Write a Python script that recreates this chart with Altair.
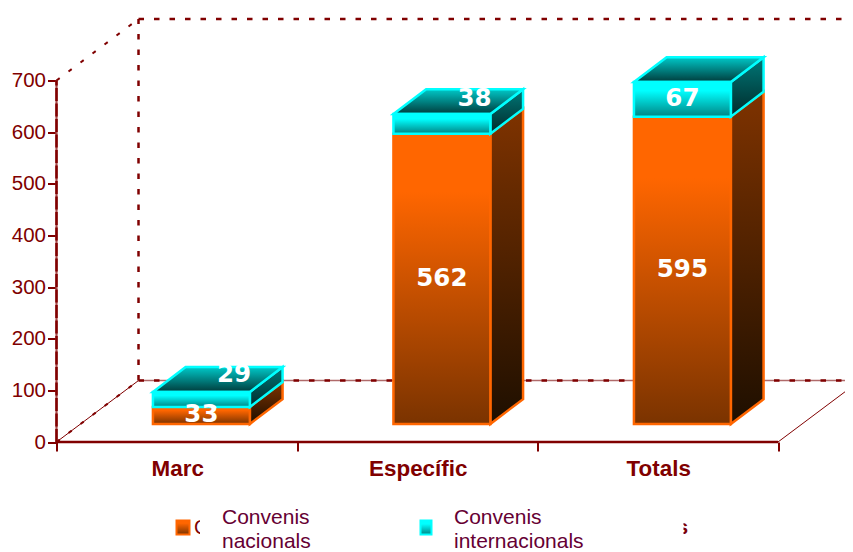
import altair as alt
import pandas as pd

categories = ["Marc", "Específic", "Totals"]
nacionals = [33, 562, 595]
internacionals = [29, 38, 67]
y_ticks = [0, 100, 200, 300, 400, 500, 600, 700]
x_ticks = [0, 1, 2, 3]
label_on_top = [True, True, False]  # the internacional label sits on the top face for the first two

DARK = "#800000"
ORIGIN_X, ORIGIN_Y = 56.5, 18.5
PLOT_W, PLOT_H = 788.5, 423.5
X_MAX, Y_MAX = PLOT_W / 240.5, 820

BAR_L, BAR_R = 0.401, 0.804     # front face inside a category
BASE = 35                       # bar base above the axis floor, in value units
DEPTH_X, DEPTH_Y = 0.136, 48    # bar depth
WALL_X, WALL_Y = 0.341, 119     # chart depth


def px(x):
    return x - ORIGIN_X


def py(y):
    return y - ORIGIN_Y


def grad(*stops):
    return alt.LinearGradient(
        gradient="linear", x1=0, y1=0, x2=0, y2=1,
        stops=[alt.GradientStop(offset=o, color=c) for o, c in stops],
    )


X = alt.X("x:Q", scale=alt.Scale(domain=[0, X_MAX], nice=False, zero=False),
          axis=alt.Axis(values=x_ticks, labels=False, title=None, domain=False, grid=False,
                        tickSize=9, tickWidth=2, tickColor=DARK))
Y = alt.Y("y:Q", scale=alt.Scale(domain=[0, Y_MAX], nice=False, zero=False),
          axis=alt.Axis(values=y_ticks, title=None, domain=False, grid=False,
                        tickSize=9, tickWidth=2, tickColor=DARK, labelColor=DARK,
                        labelFontSize=20.5, labelFont="Liberation Sans", labelPadding=2))
X2 = alt.X2("x2:Q")
Y2 = alt.Y2("y2:Q")

front, side, top, labels = [], [], [], []
for i, cat in enumerate(categories):
    left, right = i + BAR_L, i + BAR_R
    y0 = BASE
    y1 = y0 + nacionals[i]
    y2 = y1 + internacionals[i]
    for series, lo, hi in (("n", y0, y1), ("i", y1, y2)):
        front.append(dict(s=series, c=cat, x=left, x2=right, y=lo, y2=hi))
        side.append(dict(s=series, c=cat, x=right, y=lo, y2=hi))
        side.append(dict(s=series, c=cat, x=right + DEPTH_X, y=lo + DEPTH_Y, y2=hi + DEPTH_Y))
    top.append(dict(c=cat, x=left, x2=right, y=y2))
    top.append(dict(c=cat, x=left + DEPTH_X, x2=right + DEPTH_X, y=y2 + DEPTH_Y))
    cx = (left + right) / 2
    labels.append(dict(x=cx, y=(y0 + y1) / 2, t=str(nacionals[i])))
    shift = label_on_top[i]
    labels.append(dict(x=cx + (DEPTH_X if shift else 0),
                       y=(y1 + y2) / 2 + (DEPTH_Y if shift else 0),
                       t=str(internacionals[i])))

front = pd.DataFrame(front)
side = pd.DataFrame(side)
top = pd.DataFrame(top)
labels = pd.DataFrame(labels)

top_wall = WALL_Y + 700


def seg(x, y, x2, y2):
    return pd.DataFrame([dict(x=x, y=y, x2=x2, y2=y2)])


def rule(df, color=DARK, width=1.0, dash=None):
    kw = dict(color=color, strokeWidth=width)
    if dash:
        kw["strokeDash"] = dash
    return alt.Chart(df).mark_rule(**kw).encode(x=X, y=Y, x2=X2, y2=Y2)


DASH = [5.5, 10]
lines = [
    # back wall
    rule(seg(WALL_X, top_wall, X_MAX, top_wall), width=2.5, dash=DASH),
    rule(seg(WALL_X, WALL_Y, WALL_X, top_wall), width=2.5, dash=DASH),
    rule(seg(WALL_X, WALL_Y, X_MAX, WALL_Y), color="#b06a6a", width=1.5),
    rule(seg(WALL_X, WALL_Y, X_MAX, WALL_Y), width=2.5, dash=DASH),
    # side diagonals
    rule(seg(0, 700, WALL_X, top_wall), width=2, dash=[4, 11]),
    rule(seg(0, 0, WALL_X, WALL_Y), width=1),
    rule(seg(0, 0, WALL_X, WALL_Y), width=2, dash=[4, 11]),
    rule(seg(3, 0, X_MAX, WALL_Y * (X_MAX - 3) / WALL_X), width=1),
    # axis lines
    rule(seg(0, 0, 0, 700), color="#a84c4c", width=2.2),
    rule(seg(0, 0, 0, 700), width=2.5, dash=[13, 2.5]),
    rule(seg(0, 0, 3, 0), width=2.5),
]

cat_df = pd.DataFrame(dict(x=[i + 0.5 for i in range(3)], t=categories))
cat_text = alt.Chart(cat_df).mark_text(
    font="Liberation Sans", fontSize=22.4, fontWeight="bold", color=DARK, align="center", baseline="middle", dx=1
).encode(x=X, y=alt.value(py(469)), text="t:N")

ORANGE, CYAN = "#ff6600", "#00ffff"


def area_side(series, fill, stroke):
    return alt.Chart(side[side.s == series]).mark_area(
        fill=grad(*fill), stroke=stroke, strokeWidth=2.5, strokeJoin="miter", opacity=1
    ).encode(x=X, y=Y, y2=Y2, detail="c:N")


def rect_front(series, fill, stroke):
    return alt.Chart(front[front.s == series]).mark_rect(
        fill=grad(*fill), stroke=stroke, strokeWidth=2.5
    ).encode(x=X, x2=X2, y=Y, y2=Y2)


orange_fill = [(0, "#ff6600"), (0.2, "#ff6600"), (1, "#7a3300")]
orange_side = [(0, "#7f3300"), (1, "#1e0f00")]
cyan_fill = [(0, "#00ffff"), (0.25, "#00ffff"), (1, "#008484")]
cyan_side = [(0, "#007878"), (1, "#002a2a")]
cyan_top = [(0, "#00c8c8"), (1, "#003c3c")]

top_face = alt.Chart(top).mark_area(
    orient="horizontal", fill=grad(*cyan_top), stroke=CYAN, strokeWidth=2.5, opacity=1
).encode(x=X, x2=X2, y=Y, detail="c:N")

value_text = alt.Chart(labels).mark_text(
    font="DejaVu Sans", fontSize=24.5, fontWeight="bold", color="white", align="center", baseline="middle"
).encode(x=X, y=Y, text="t:N")

# legend
legend_names = ["Convenis\nnacionals", "Convenis\ninternacionals"]
legend_x = [222, 454]
swatch_x = [(176.5, 189.5), (420.5, 431.5)]
swatch_fill = [orange_fill, cyan_fill]
swatch_stroke = [ORANGE, CYAN]
mask_x = [(200, 215), (674, 683.5)]

legend_layers = []
for i in range(2):
    legend_layers.append(
        alt.Chart(pd.DataFrame(dict(k=[i]))).mark_rect(
            fill=grad(*swatch_fill[i]), stroke=swatch_stroke[i], strokeWidth=2
        ).encode(x=alt.value(px(swatch_x[i][0])), x2=alt.value(px(swatch_x[i][1])),
                 y=alt.value(py(520.5)), y2=alt.value(py(534.5)))
    )

frag_c = alt.Chart(pd.DataFrame(dict(t=["C"]))).mark_text(
    font="Liberation Sans", fontSize=20, color=DARK, align="left", baseline="middle"
).encode(x=alt.value(px(194)), y=alt.value(py(528)), text="t:N")
frag_s = alt.Chart(pd.DataFrame(dict(t=["s"]))).mark_text(
    font="Liberation Sans", fontSize=20, color=DARK, align="right", baseline="middle", fontWeight="bold"
).encode(x=alt.value(px(688)), y=alt.value(py(528)), text="t:N")

masks = []
texts = []
for i in range(2):
    masks.append(
        alt.Chart(pd.DataFrame(dict(k=[i]))).mark_rect(fill="white").encode(
            x=alt.value(px(mask_x[i][0])), x2=alt.value(px(mask_x[i][1])),
            y=alt.value(py(510)), y2=alt.value(py(550)),
        )
    )
    texts.append(
        alt.Chart(pd.DataFrame(dict(t=[legend_names[i]]))).mark_text(
            font="Liberation Sans", fontSize=21, color="#660033", align="left", baseline="top",
            lineBreak="\n", lineHeight=24
        ).encode(x=alt.value(px(legend_x[i])), y=alt.value(py(507)), text="t:N")
    )

chart = alt.layer(
    *lines,
    area_side("n", orange_side, ORANGE),
    rect_front("n", orange_fill, ORANGE),
    area_side("i", cyan_side, CYAN),
    top_face,
    rect_front("i", cyan_fill, CYAN),
    value_text, cat_text,
    *legend_layers, frag_c, frag_s, *masks, *texts,
).properties(
    width=PLOT_W, height=PLOT_H,
    padding={"left": ORIGIN_X - 8, "top": ORIGIN_Y - 8, "right": 0, "bottom": 110},
    autosize=alt.AutoSizeParams(type="none"),
    background="white",
).configure_view(stroke=None)

chart.save("out.html", embed_options={"renderer": "svg", "actions": False})
